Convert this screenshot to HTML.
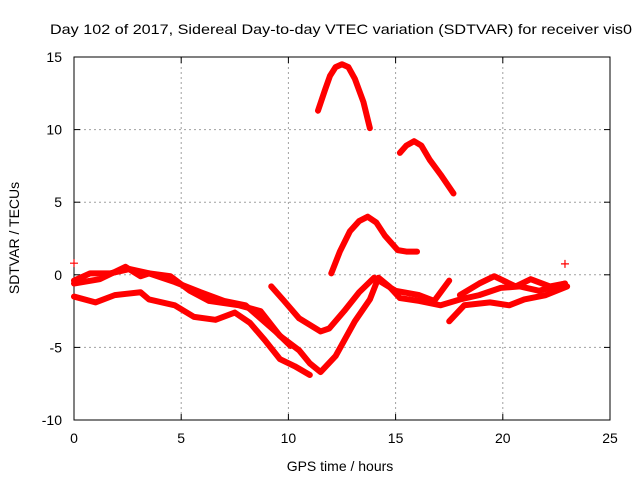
<!DOCTYPE html>
<html><head><meta charset="utf-8"><style>
html,body{margin:0;padding:0;background:#fff}
svg{display:block}
text{font-family:"Liberation Sans",sans-serif;font-size:14px;fill:#000}
</style></head><body>
<svg id="chart" width="640" height="480" xmlns="http://www.w3.org/2000/svg">
<text x="50" y="34" textLength="582" lengthAdjust="spacingAndGlyphs">Day 102 of 2017, Sidereal Day-to-day VTEC variation (SDTVAR) for receiver vis0</text>
<g id="grid"></g>
<g id="axes"></g>
<g id="series"></g>
<text x="340" y="471" text-anchor="middle">GPS time / hours</text>
<text transform="translate(19,238) rotate(-90)" text-anchor="middle">SDTVAR / TECUs</text>
</svg>
<script>
const xTicks=[0,5,10,15,20,25];
const yTicks=[-10,-5,0,5,10,15];
const arcTopH=[11.38,11.7,11.94,12.2,12.5,12.8,13.1,13.5,13.8];
const arcTopV=[11.3,12.7,13.7,14.3,14.5,14.3,13.5,11.9,10.1];
const arcMidH=[15.2,15.5,15.86,16.2,16.6,17.1,17.7];
const arcMidV=[8.4,8.9,9.2,8.9,7.9,6.9,5.6];
const arcLowH=[12.0,12.4,12.87,13.3,13.7,14.1,14.5,15.1,15.5,16.0];
const arcLowV=[0.1,1.6,3.0,3.7,4.0,3.6,2.7,1.7,1.6,1.6];
const s1H=[0,1.2,2.4,3.1,3.5,4.5,5.4,6.3,7.7,8.7,9.6,10.5,11.0,11.5,12.2,13.1,13.8,14.2,14.7,15.2,16.1,17.1,18.0,18.9,19.9,20.8,21.7,22.9];
const s1V=[-0.6,-0.3,0.55,-0.1,0.1,-0.1,-1.1,-1.8,-2.1,-2.5,-4.2,-5.2,-6.1,-6.7,-5.6,-3.2,-1.7,-0.2,-0.8,-1.6,-1.8,-2.1,-1.7,-1.4,-0.9,-0.8,-1.1,-0.6];
const s2H=[0,1.0,1.9,3.1,3.5,4.7,5.6,6.6,7.5,8.2,8.9,9.6,10.3,11.0];
const s2V=[-1.5,-1.9,-1.4,-1.2,-1.7,-2.1,-2.9,-3.1,-2.6,-3.3,-4.5,-5.8,-6.3,-6.9];
const s3H=[9.2,9.8,10.5,11.5,11.9,12.6,13.3,14.0,15.0,16.1,16.8,17.5];
const s3V=[-0.8,-1.8,-3.0,-3.9,-3.7,-2.5,-1.2,-0.2,-1.1,-1.4,-1.8,-0.4];
const s4H=[0,0.75,1.7,2.6,3.5,4.7,5.9,7.0,8.0,8.7,9.4,10.1];
const s4V=[-0.4,0.1,0.1,0.4,0.1,-0.5,-1.2,-1.8,-2.1,-3.0,-3.9,-4.9];
const s5H=[17.5,18.2,19.4,20.3,21.0,22.0,23.0];
const s5V=[-3.2,-2.1,-1.9,-2.1,-1.7,-1.4,-0.8];
const s6H=[18.0,18.9,19.6,20.6,21.3,22.2,22.9];
const s6V=[-1.4,-0.6,-0.1,-0.8,-0.3,-0.8,-0.6];
const outH=[0,22.9];
const outV=[0.8,0.75];

const X0=74,X1=610,Y0=420,Y1=57;
const sx=h=>X0+(h-0)/(25-0)*(X1-X0);
const sy=v=>Y0-(v+10)/(25)*(Y0-Y1);
const NS="http://www.w3.org/2000/svg";
function mk(t,a,p){const e=document.createElementNS(NS,t);for(const k in a)e.setAttribute(k,a[k]);p.appendChild(e);return e;}
const grid=document.getElementById('grid'),axes=document.getElementById('axes'),ser=document.getElementById('series');
xTicks.forEach(t=>{
  if(t>0&&t<25){const l=mk('line',{x1:sx(t),x2:sx(t),y1:Y1,y2:Y0,stroke:'#a0a0a0','stroke-dasharray':'2,3'},grid);
  
  }
  const tk=mk('line',{x1:sx(t),x2:sx(t),y1:Y0,y2:Y0-6,stroke:'#000'},axes);
  
  
  const tk2=mk('line',{x1:sx(t),x2:sx(t),y1:Y1,y2:Y1+6,stroke:'#000'},axes);
  
  
  const tx=mk('text',{x:sx(t),y:443,'text-anchor':'middle'},axes);tx.textContent=t;
  
  
});
yTicks.forEach(t=>{
  if(t>-10&&t<15){const l=mk('line',{x1:X0,x2:X1,y1:sy(t),y2:sy(t),stroke:'#a0a0a0','stroke-dasharray':'2,3'},grid);
  
  }
  const tk=mk('line',{x1:X0,x2:X0+6,y1:sy(t),y2:sy(t),stroke:'#000'},axes);
  
  
  const tk2=mk('line',{x1:X1,x2:X1-6,y1:sy(t),y2:sy(t),stroke:'#000'},axes);
  
  
  const tx=mk('text',{x:62,y:sy(t)+5,'text-anchor':'end'},axes);tx.textContent=t;
  
  
});
const fr=mk('rect',{x:X0,y:Y1,width:X1-X0,height:Y0-Y1,fill:'none',stroke:'#000'},axes);


const allSeries=[[arcTopH,arcTopV],[arcMidH,arcMidV],[arcLowH,arcLowV],[s1H,s1V],[s2H,s2V],[s3H,s3V],[s4H,s4V],[s5H,s5V],[s6H,s6V]];
allSeries.forEach(([H,V])=>{
  const pts=H.map((h,i)=>sx(h)+','+sy(V[i])).join(' ');
  const p=mk('polyline',{points:pts,fill:'none',stroke:'#ff0000','stroke-width':6,'stroke-linejoin':'round','stroke-linecap':'round'},ser);
  
  
});
outH.forEach((h,i)=>{
  const x=sx(h),y=sy(outV[i]);
  const p=mk('path',{d:`M${x-4},${y}H${x+4}M${x},${y-4}V${y+4}`,stroke:'#ff0000','stroke-width':1.2},ser);
  
  
});
</script>
</body></html>
